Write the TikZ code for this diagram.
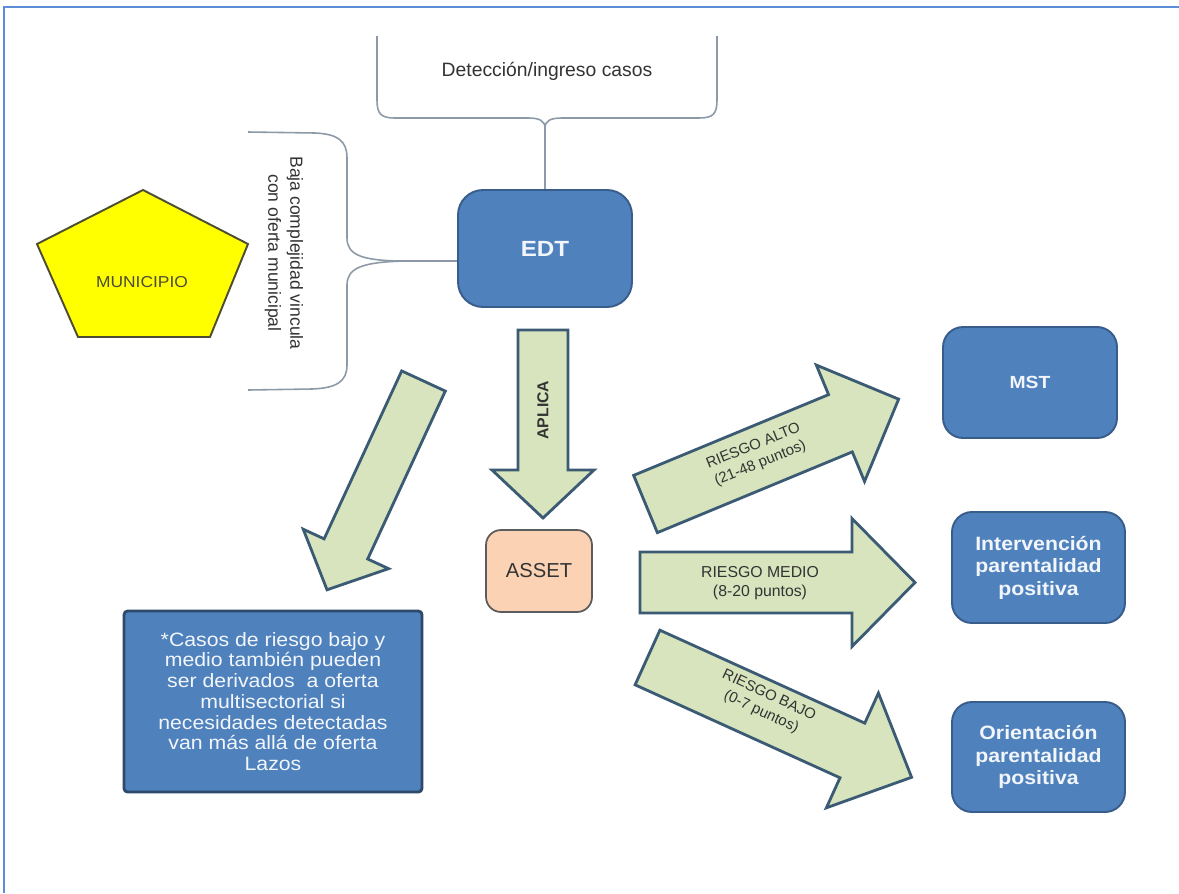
\documentclass[tikz,border=0pt]{standalone}
\usepackage{fontspec}
\setmainfont{Liberation Sans}
\newfontfamily\widefont[FakeStretch=1.1]{Liberation Sans}
\usetikzlibrary{calc}
\definecolor{boxfill}{HTML}{4F81BD}
\definecolor{boxline}{HTML}{385D8A}
\definecolor{notebline}{HTML}{2E4A6B}
\definecolor{arrfill}{HTML}{D7E4BD}
\definecolor{arrline}{HTML}{3B5A74}
\definecolor{bracecol}{HTML}{8C99A6}
\definecolor{framecol}{HTML}{5B8ED6}
\definecolor{peach}{HTML}{FBD3B4}
\definecolor{pentline}{HTML}{4D4D33}
\definecolor{pentfill}{HTML}{FFFF00}
\definecolor{txtgray}{HTML}{333333}
\definecolor{boxtxt}{HTML}{F2F6FB}
\tikzset{
  bluebox/.style={draw=boxline, fill=boxfill, line width=1.1pt, rounded corners=0.4cm,
    inner sep=0pt, align=center, text=boxtxt, font=\widefont\bfseries\fontsize{11}{12.8}\selectfont},
  fatarr/.style={draw=arrline, fill=arrfill, line width=1.6pt, line join=miter},
  brace/.style={draw=bracecol, line width=0.9pt},
  arrlabel/.style={inner sep=0pt, align=center, text=txtgray, font=\fontsize{8.5}{10.5}\selectfont}
}
\newcommand{\fatarrow}[6]{%
  \begin{scope}[shift={#1},rotate=#2]
    \draw[fatarr] (0,-#4) -- ({#3-#6},-#4) -- ({#3-#6},-#5) -- (#3,0) -- ({#3-#6},#5) -- ({#3-#6},#4) -- (0,#4) -- cycle;
  \end{scope}}
\begin{document}
\begin{tikzpicture}[x=0.02cm,y=0.02cm]
\useasboundingbox (0,0) rectangle (1179,-893);
\fill[white] (0,0) rectangle (1179,-893);
% frame
\draw[framecol, line width=1.2pt] (4,-893) -- (4,-7) -- (1179,-7);

% boxes
\node[bluebox, minimum width=3.48cm, minimum height=2.34cm, rounded corners=0.5cm,
  font=\widefont\bfseries\fontsize{12.5}{14}\selectfont] (edt) at (545,-248.5) {EDT};
\node[bluebox, minimum width=3.48cm, minimum height=2.22cm,
  font=\widefont\bfseries\fontsize{10}{12}\selectfont] (mst) at (1030,-382.5) {MST};
\node[bluebox, minimum width=3.46cm, minimum height=2.22cm] (interv) at (1038.5,-567.5)
  {Intervención\\parentalidad\\positiva};
\node[bluebox, minimum width=3.46cm, minimum height=2.2cm] (orient) at (1038.5,-757)
  {Orientación\\parentalidad\\positiva};
\node[draw=txtgray!80, fill=peach, line width=1pt, rounded corners=0.3cm, inner sep=0pt,
  minimum width=2.12cm, minimum height=1.64cm, text=txtgray,
  font=\fontsize{11.5}{13}\selectfont] (asset) at (539,-571) {ASSET};
\node[draw=notebline, fill=boxfill, line width=1.6pt, rounded corners=2pt, inner sep=0pt,
  minimum width=5.96cm, minimum height=3.62cm, align=center, text=boxtxt,
  font=\widefont\fontsize{11}{11.8}\selectfont] (note) at (273,-701.5)
  {*Casos de riesgo bajo y\\medio también pueden\\ser derivados\ \ a oferta\\multisectorial si\\necesidades detectadas\\van más allá de oferta\\Lazos};

% pentagon
\draw[draw=pentline, fill=pentfill, line width=1.1pt, line join=miter]
  (143,-190) -- (248,-244) -- (210,-337) -- (78,-337) -- (37,-244) -- cycle;
\node[inner sep=0pt, text=pentline, font=\widefont\fontsize{9}{10}\selectfont] (muni) at (142,-282) {MUNICIPIO};

% top brace
\coordinate (tb) at (545,-128);
\draw[brace] (377,-36) -- (377,-100) .. controls (377,-114) and (381,-118) .. (395,-118) -- (528,-118) .. controls (540,-118) and (545,-121) .. (tb);
\draw[brace] (717,-36) -- (717,-100) .. controls (717,-114) and (713,-118) .. (699,-118) -- (562,-118) .. controls (550,-118) and (545,-121) .. (tb);
\draw[brace] (tb) -- (edt.north);
\node[inner sep=0pt, text=txtgray, font=\fontsize{11}{12}\selectfont] (det) at (547,-71) {Detección/ingreso casos};

% left brace
\coordinate (lb) at (405,-261);
\draw[brace] (248,-132) -- (315,-133) .. controls (338,-134) and (347,-141) .. (347,-158) -- (347,-238) .. controls (347,-255) and (362,-261) .. (lb);
\draw[brace] (lb) .. controls (362,-262) and (347,-268) .. (347,-285) -- (347,-365) .. controls (347,-382) and (336,-388) .. (312,-389) -- (248,-390);
\draw[brace] (lb) -- (lb -| edt.west);
\node[inner sep=0pt, rotate=-90, align=center, text=txtgray, font=\fontsize{10}{12.5}\selectfont] (baja) at (284,-253)
  {Baja complejidad vincula\\con oferta municipal};

% block arrows
\fatarrow{(543,-330)}{-90}{188}{25}{51}{48}
\fatarrow{(423.5,-381)}{245.2}{230}{24}{47}{45}
\fatarrow{(645.5,-504)}{22.5}{274}{31}{63}{63}
\fatarrow{(640,-582.5)}{0}{275}{30.5}{64}{63}
\fatarrow{(647.5,-657.5)}{-24.4}{290}{30}{63}{65}

\node[arrlabel, rotate=90, font=\bfseries\fontsize{9}{10}\selectfont] (aplica) at (543,-410) {APLICA};
\node[arrlabel, rotate=22] (alto) at (757,-455) {RIESGO ALTO\\(21-48 puntos)};
\node[arrlabel, font=\fontsize{9}{11}\selectfont] (medio) at (760,-583) {RIESGO MEDIO\\(8-20 puntos)};
\node[arrlabel, rotate=-25] (bajo) at (765,-704) {RIESGO BAJO\\(0-7 puntos)};
\end{tikzpicture}
\end{document}
